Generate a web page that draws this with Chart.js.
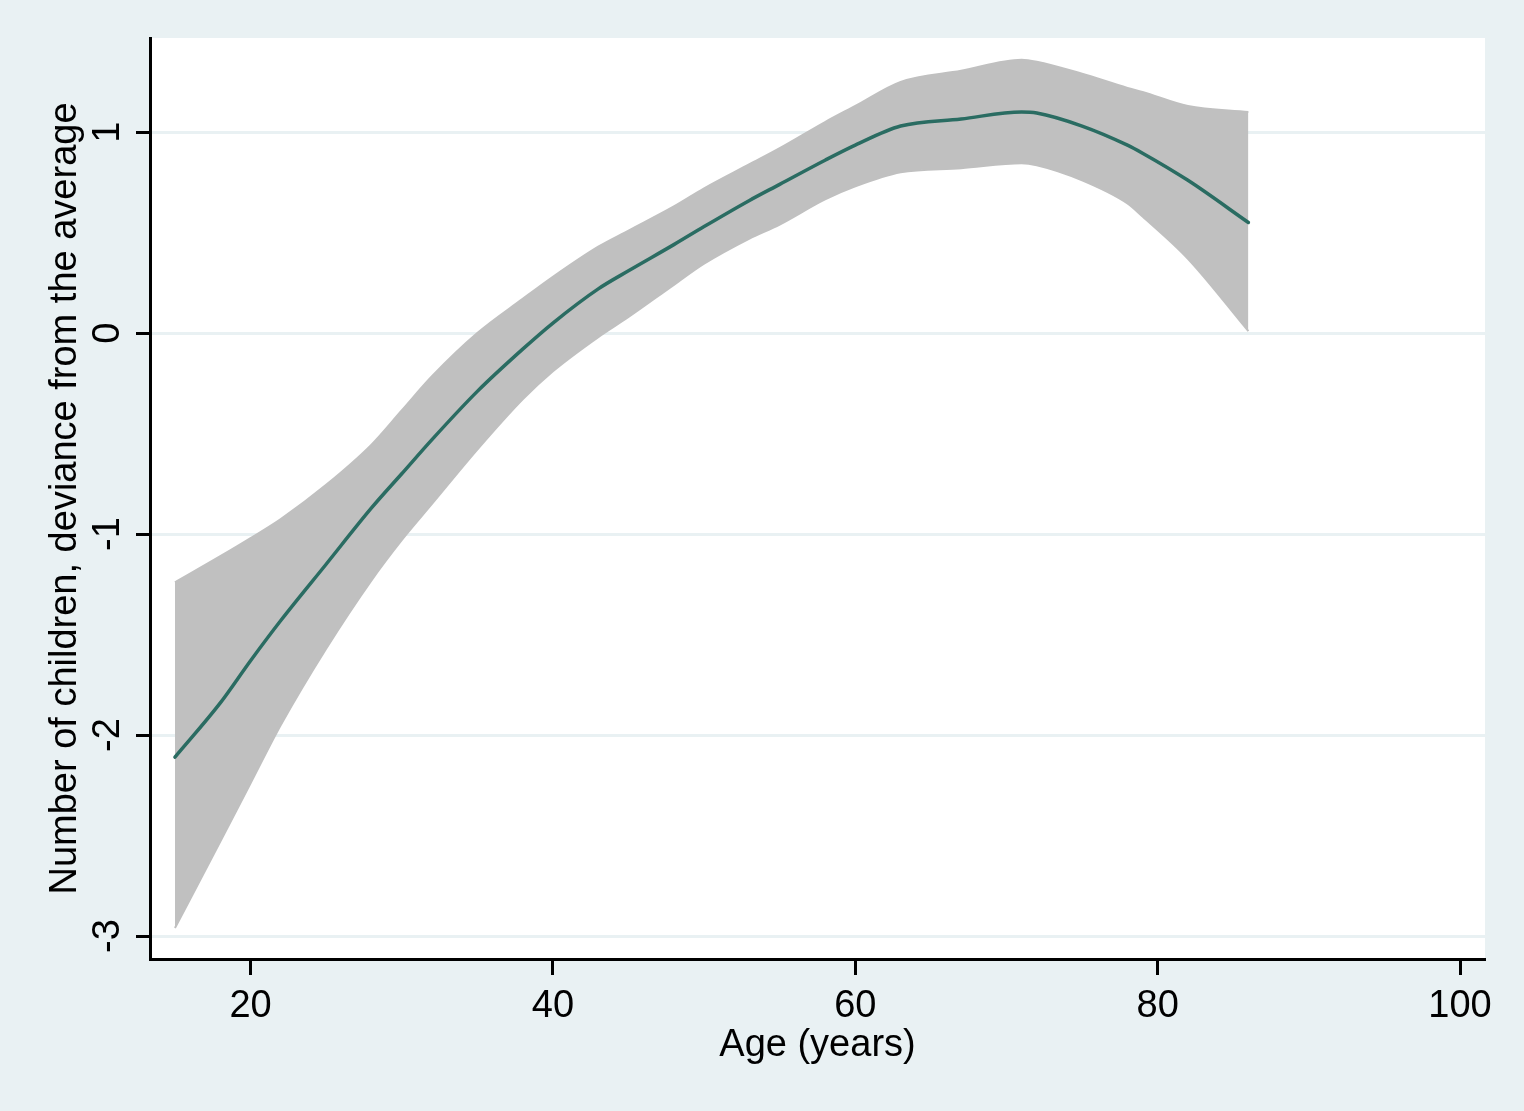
<!DOCTYPE html>
<html>
<head>
<meta charset="utf-8">
<title>Number of children by age</title>
<script src="https://cdn.jsdelivr.net/npm/chart.js@4.4.0/dist/chart.umd.min.js"></script>
<style>
  html, body { margin: 0; padding: 0; background: #e9f1f3; }
  #wrap { width: 1524px; height: 1111px; }
</style>
</head>
<body>
<div id="wrap"><canvas id="ageChart" width="1524" height="1111"></canvas></div>
<script>
// values
const ages = [15, 18, 20, 22, 25, 28, 30, 32, 35, 38, 40, 43, 45, 48, 50, 53, 55, 58, 60, 63, 67, 71, 72, 75, 78, 79, 82, 86];
const fitted = [-2.11, -1.84, -1.63, -1.43, -1.15, -0.87, -0.70, -0.53, -0.29, -0.08, 0.05, 0.22, 0.31, 0.44, 0.53, 0.66, 0.74, 0.86, 0.935, 1.03, 1.065, 1.10, 1.095, 1.03, 0.935, 0.895, 0.76, 0.55];
const upperCI = [-1.24, -1.11, -1.02, -0.925, -0.755, -0.555, -0.385, -0.215, 0.0, 0.17, 0.28, 0.43, 0.51, 0.63, 0.72, 0.84, 0.92, 1.05, 1.13, 1.25, 1.305, 1.36, 1.35, 1.29, 1.22, 1.20, 1.13, 1.10];
const lowerCI = [-2.96, -2.53, -2.24, -1.95, -1.57, -1.23, -1.03, -0.85, -0.58, -0.33, -0.19, -0.02, 0.08, 0.24, 0.345, 0.47, 0.54, 0.665, 0.73, 0.80, 0.82, 0.845, 0.835, 0.76, 0.645, 0.58, 0.37, 0.01];
const xTicks = [20, 40, 60, 80, 100];
const yTicks = [-3, -2, -1, 0, 1];

const bgColor = '#e9f1f3';
const bandColor = '#c0c0c0';
const lineColor = '#2a6c62';
const font = '38px "Liberation Sans", Arial, Helvetica, sans-serif';

const pts = vals => ages.map((a, i) => ({ x: a, y: vals[i] }));

// white plot region + all the text (tick labels, axis titles)
const stataFrame = {
  id: 'stataFrame',
  beforeDraw(chart) {
    const { ctx, chartArea: a } = chart;
    ctx.save();
    ctx.fillStyle = bgColor;
    ctx.fillRect(0, 0, chart.width, chart.height);
    ctx.fillStyle = '#ffffff';
    ctx.fillRect(a.left, a.top, a.right - a.left, a.bottom - a.top);
    ctx.restore();
  },
  afterDraw(chart) {
    const { ctx, chartArea: a } = chart;
    const x = chart.scales.x, y = chart.scales.y;
    ctx.save();
    ctx.fillStyle = '#000';
    ctx.font = font;
    ctx.textAlign = 'center';
    ctx.textBaseline = 'alphabetic';
    xTicks.forEach(v => ctx.fillText(String(v), x.getPixelForValue(v), a.bottom + 58));
    ctx.fillText('Age (years)', (a.left + a.right) / 2, a.bottom + 97);
    yTicks.forEach(v => {
      ctx.save();
      ctx.translate(a.left - 31, y.getPixelForValue(v));
      ctx.rotate(-Math.PI / 2);
      ctx.fillText(String(v), 0, 0);
      ctx.restore();
    });
    ctx.translate(a.left - 74, (a.top + a.bottom) / 2);
    ctx.rotate(-Math.PI / 2);
    ctx.fillText('Number of children, deviance from the average', 0, 0);
    ctx.restore();
  }
};

const ctx = document.getElementById('ageChart').getContext('2d');
const chart = new Chart(ctx, {
  type: 'line',
  data: {
    datasets: [
      {
        label: 'lower',
        data: pts(lowerCI),
        order: 2,
        borderColor: bandColor,
        borderWidth: 2,
        borderJoinStyle: 'round',
        cubicInterpolationMode: 'monotone',
        pointRadius: 0,
        fill: false
      },
      {
        label: 'upper',
        data: pts(upperCI),
        order: 1,
        borderColor: bandColor,
        borderWidth: 2,
        borderJoinStyle: 'round',
        cubicInterpolationMode: 'monotone',
        backgroundColor: bandColor,
        pointRadius: 0,
        fill: 0
      },
      {
        label: 'fitted',
        data: pts(fitted),
        order: 0,
        borderColor: lineColor,
        borderWidth: 3.5,
        borderCapStyle: 'round',
        borderJoinStyle: 'round',
        cubicInterpolationMode: 'monotone',
        pointRadius: 0,
        fill: false
      }
    ]
  },
  options: {
    responsive: false,
    animation: false,
    devicePixelRatio: 1,
    layout: { padding: { top: 38, right: 39, left: 0, bottom: 0 } },
    plugins: {
      legend: { display: false },
      tooltip: { enabled: false }
    },
    scales: {
      x: {
        type: 'linear',
        min: 13.35,
        max: 101.65,
        afterBuildTicks: s => { s.ticks = xTicks.map(v => ({ value: v })); },
        afterFit: s => { s.height = 152; },
        ticks: { display: false },
        grid: {
          drawOnChartArea: false,
          drawTicks: true,
          tickLength: 16,
          tickWidth: 3,
          tickColor: '#000'
        },
        border: { display: true, color: '#000', width: 3 }
      },
      y: {
        type: 'linear',
        min: -3.114,
        max: 1.468,
        afterBuildTicks: s => { s.ticks = yTicks.map(v => ({ value: v })); },
        afterFit: s => { s.width = 150; },
        ticks: { display: false },
        grid: {
          color: bgColor,
          lineWidth: 3,
          drawTicks: true,
          tickLength: 14,
          tickWidth: 3,
          tickColor: '#000'
        },
        border: { display: true, color: '#000', width: 3 }
      }
    }
  },
  plugins: [stataFrame]
});
</script>
</body>
</html>
